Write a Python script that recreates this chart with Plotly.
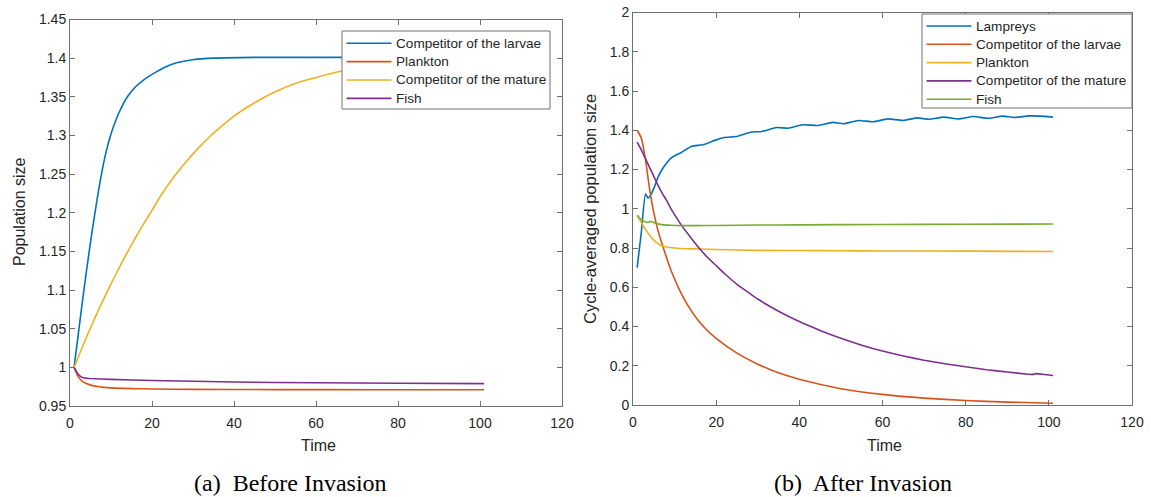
import plotly.graph_objects as go

W, H = 1151, 497

# ---------------- (a) Before Invasion ----------------
a_larvae_t = [1, 2, 3, 4, 5, 6, 7, 8, 9, 10, 11, 12, 14, 16, 18, 20, 23, 26, 30, 35, 45, 101]
a_larvae_v = [1.0, 1.042, 1.084, 1.124, 1.162, 1.197, 1.230, 1.259, 1.283, 1.302, 1.317, 1.330,
              1.350, 1.363, 1.372, 1.379, 1.388, 1.394, 1.398, 1.400, 1.401, 1.401]

a_plankton_t = [1, 2, 3, 4, 5, 7, 10, 15, 20, 30, 50, 75, 101]
a_plankton_v = [1.0, 0.988, 0.982, 0.979, 0.977, 0.975, 0.9735, 0.9725, 0.972, 0.9715, 0.9712,
                0.9711, 0.971]

a_mature_t = [1, 2, 3, 4, 5, 6, 8, 10, 12, 14, 16, 18, 20, 22, 25, 28, 31, 34, 37, 40, 44, 48,
              52, 56, 60, 66, 72, 80, 90, 101]
a_mature_v = [1.0, 1.013, 1.026, 1.039, 1.051, 1.063, 1.086, 1.108, 1.129, 1.149, 1.168, 1.186,
              1.203, 1.221, 1.244, 1.264, 1.282, 1.298, 1.312, 1.325, 1.339, 1.351, 1.361, 1.369,
              1.375, 1.383, 1.389, 1.394, 1.398, 1.400]

a_fish_t = [1, 2, 3, 4, 5, 10, 20, 40, 60, 80, 101]
a_fish_v = [1.0, 0.991, 0.987, 0.986, 0.9855, 0.9845, 0.983, 0.981, 0.980, 0.9795, 0.979]

a_names = ["Competitor of the larvae", "Plankton", "Competitor of the mature", "Fish"]

# ---------------- (b) After Invasion ----------------
b_lamprey_t = [1, 2, 3, 3.6, 4.5, 5.2, 6, 7, 8, 9, 10, 11.4, 14.1, 16.8, 20, 22, 24.8, 28.3, 31,
               34.6, 37.3, 40.8, 44.4, 48, 50.6, 54.2, 57.8, 61.3, 64.9, 68.4, 71.1, 74.7, 78.3,
               81.8, 85.4, 89, 91.6, 95.2, 97.9, 101]
b_lamprey_v = [0.70, 0.88, 1.075, 1.055, 1.08, 1.114, 1.16, 1.20, 1.23, 1.255, 1.27, 1.284, 1.318,
               1.326, 1.351, 1.363, 1.368, 1.390, 1.394, 1.414, 1.410, 1.428, 1.424, 1.440, 1.433,
               1.450, 1.443, 1.458, 1.450, 1.463, 1.456, 1.467, 1.458, 1.470, 1.461, 1.472, 1.465,
               1.473, 1.472, 1.467]

b_larvae_t = [1, 2, 3, 4, 5, 6, 7, 8, 9, 10, 11, 12, 13, 15, 17, 20, 25, 30, 35, 40, 50, 60, 70,
              80, 90, 101]
b_larvae_v = [1.40, 1.36, 1.25, 1.10, 0.98, 0.89, 0.82, 0.755, 0.694, 0.642, 0.594, 0.552, 0.514,
              0.450, 0.399, 0.339, 0.264, 0.208, 0.164, 0.131, 0.083, 0.054, 0.035, 0.0226,
              0.0147, 0.0092]

b_plankton_t = [1, 2, 3, 4, 5, 6, 7, 8, 10, 13, 16, 20, 30, 40, 50, 60, 80, 101]
b_plankton_v = [0.966, 0.93, 0.895, 0.865, 0.84, 0.822, 0.81, 0.805, 0.80, 0.796, 0.795, 0.792,
                0.788, 0.787, 0.786, 0.785, 0.784, 0.782]

b_mature_t = [1, 2, 3, 4, 5, 6, 7, 8, 9, 10, 12, 14, 16, 18, 20, 22, 25, 28, 30, 35, 40, 45, 50,
              55, 60, 65, 70, 75, 80, 85, 90, 95, 96, 97, 99, 101]
b_mature_v = [1.34, 1.30, 1.255, 1.21, 1.165, 1.12, 1.08, 1.045, 1.005, 0.97, 0.905, 0.85, 0.797,
              0.75, 0.71, 0.67, 0.615, 0.57, 0.54, 0.478, 0.425, 0.38, 0.34, 0.305, 0.275, 0.25,
              0.228, 0.21, 0.195, 0.18, 0.168, 0.157, 0.155, 0.16, 0.155, 0.15]

b_fish_t = [1, 2, 3, 3.5, 4, 4.5, 5, 6, 7, 9, 12, 15, 20, 30, 40, 60, 80, 101]
b_fish_v = [0.967, 0.945, 0.932, 0.930, 0.934, 0.935, 0.930, 0.923, 0.919, 0.916, 0.914, 0.914,
            0.915, 0.917, 0.918, 0.920, 0.921, 0.922]

b_names = ["Lampreys", "Competitor of the larvae", "Plankton", "Competitor of the mature", "Fish"]

x_ticks = [0, 20, 40, 60, 80, 100, 120]
a_y_ticks = [0.95, 1.0, 1.05, 1.1, 1.15, 1.2, 1.25, 1.3, 1.35, 1.4, 1.45]
a_y_labels = ["0.95", "1", "1.05", "1.1", "1.15", "1.2", "1.25", "1.3", "1.35", "1.4", "1.45"]
b_y_ticks = [0, 0.2, 0.4, 0.6, 0.8, 1.0, 1.2, 1.4, 1.6, 1.8, 2.0]
b_y_labels = ["0", "0.2", "0.4", "0.6", "0.8", "1", "1.2", "1.4", "1.6", "1.8", "2"]

C_BLUE, C_ORANGE, C_YELLOW, C_PURPLE, C_GREEN = "#0072BD", "#D95319", "#EDB120", "#7E2F8E", "#77AC30"
a_colors = [C_BLUE, C_ORANGE, C_YELLOW, C_PURPLE]
b_colors = [C_BLUE, C_ORANGE, C_YELLOW, C_PURPLE, C_GREEN]

SANS = "Liberation Sans, Arial, sans-serif"
SERIF = "Liberation Serif, Times New Roman, serif"
LW = 1.6
TXT = "#262626"
AX_COLOR = "#707070"

fig = go.Figure()

def add(x, y, name, color, xa, ya):
    fig.add_trace(go.Scatter(x=x, y=y, name=name, mode="lines", showlegend=False,
                             line=dict(color=color, width=LW, shape="spline", smoothing=0.5),
                             xaxis=xa, yaxis=ya))

a_series = [(a_larvae_t, a_larvae_v), (a_plankton_t, a_plankton_v),
            (a_mature_t, a_mature_v), (a_fish_t, a_fish_v)]
for (t, v), n, c in zip(a_series, a_names, a_colors):
    add(t, v, n, c, "x", "y")

b_series = [(b_lamprey_t, b_lamprey_v), (b_larvae_t, b_larvae_v), (b_plankton_t, b_plankton_v),
            (b_mature_t, b_mature_v), (b_fish_t, b_fish_v)]
for (t, v), n, c in zip(b_series, b_names, b_colors):
    add(t, v, n, c, "x2", "y2")

def px_x(p):
    return p / W

def px_y(p):
    return 1 - p / H

axis_common = dict(showline=True, linecolor=AX_COLOR, linewidth=1, mirror="ticks",
                   ticks="inside", ticklen=5, tickcolor=AX_COLOR, tickwidth=1,
                   showgrid=False, zeroline=False, automargin=False,
                   tickfont=dict(family=SANS, size=14, color=TXT))

fig.update_layout(
    width=W, height=H, margin=dict(l=0, r=0, t=0, b=0, pad=0),
    paper_bgcolor="white", plot_bgcolor="white", showlegend=False,
    xaxis=dict(domain=[px_x(70), px_x(562)], range=[0, 120], tickvals=x_ticks, anchor="y",
               ticklabelstandoff=4, **axis_common),
    yaxis=dict(domain=[px_y(406), px_y(19.5)], range=[0.95, 1.45], tickvals=a_y_ticks,
               ticktext=a_y_labels, anchor="x", **axis_common),
    xaxis2=dict(domain=[px_x(633), px_x(1132)], range=[0, 120], tickvals=x_ticks, anchor="y2",
                ticklabelstandoff=4, **axis_common),
    yaxis2=dict(domain=[px_y(405), px_y(12.5)], range=[0, 2], tickvals=b_y_ticks,
                ticktext=b_y_labels, anchor="x2", **axis_common),
)

# ---- legends (box + sample lines + labels), placed in pixel layout coordinates ----
shapes = []
ann = []

def legend_box(x0, y0, x1, y1, first_row, row_gap, names, colors, sx0, sx1, tx):
    shapes.append(dict(type="rect", xref="paper", yref="paper", layer="above",
                       x0=px_x(x0), x1=px_x(x1), y0=px_y(y1), y1=px_y(y0),
                       fillcolor="white", line=dict(color=AX_COLOR, width=1)))
    for i, (n, c) in enumerate(zip(names, colors)):
        yy = first_row + i * row_gap
        shapes.append(dict(type="line", xref="paper", yref="paper", layer="above",
                           x0=px_x(sx0), x1=px_x(sx1), y0=px_y(yy), y1=px_y(yy),
                           line=dict(color=c, width=LW)))
        ann.append(dict(text=n, x=px_x(tx), y=px_y(yy), xref="paper", yref="paper",
                        xanchor="left", yanchor="middle", showarrow=False,
                        font=dict(family=SANS, size=13.6, color=TXT)))

legend_box(342, 31, 550, 109, 43.3, 18.35, a_names, a_colors, 346.5, 391.5, 394)
legend_box(922, 14, 1132, 108, 26.0, 18.3, b_names, b_colors, 926.5, 971.5, 974)

ann.append(dict(text="Population size", x=px_x(19), y=px_y(212), xref="paper", yref="paper",
                xanchor="center", yanchor="middle", textangle=-90, showarrow=False,
                font=dict(family=SANS, size=16, color=TXT)))
ann.append(dict(text="Cycle-averaged population size", x=px_x(590), y=px_y(209), xref="paper",
                yref="paper", xanchor="center", yanchor="middle", textangle=-90,
                showarrow=False, font=dict(family=SANS, size=16.5, color=TXT)))
ann.append(dict(text="Time", x=px_x(318), y=px_y(445), xref="paper", yref="paper",
                xanchor="center", yanchor="middle", showarrow=False,
                font=dict(family=SANS, size=16, color=TXT)))
ann.append(dict(text="Time", x=px_x(884), y=px_y(445), xref="paper", yref="paper",
                xanchor="center", yanchor="middle", showarrow=False,
                font=dict(family=SANS, size=16, color=TXT)))
ann.append(dict(text="(a)  Before Invasion", x=px_x(290), y=px_y(483), xref="paper",
                yref="paper", xanchor="center", yanchor="middle", showarrow=False,
                font=dict(family=SERIF, size=24, color="black")))
ann.append(dict(text="(b)  After Invasion", x=px_x(863), y=px_y(483), xref="paper",
                yref="paper", xanchor="center", yanchor="middle", showarrow=False,
                font=dict(family=SERIF, size=24, color="black")))

fig.update_layout(shapes=shapes, annotations=ann)

fig.write_html("out.html")
